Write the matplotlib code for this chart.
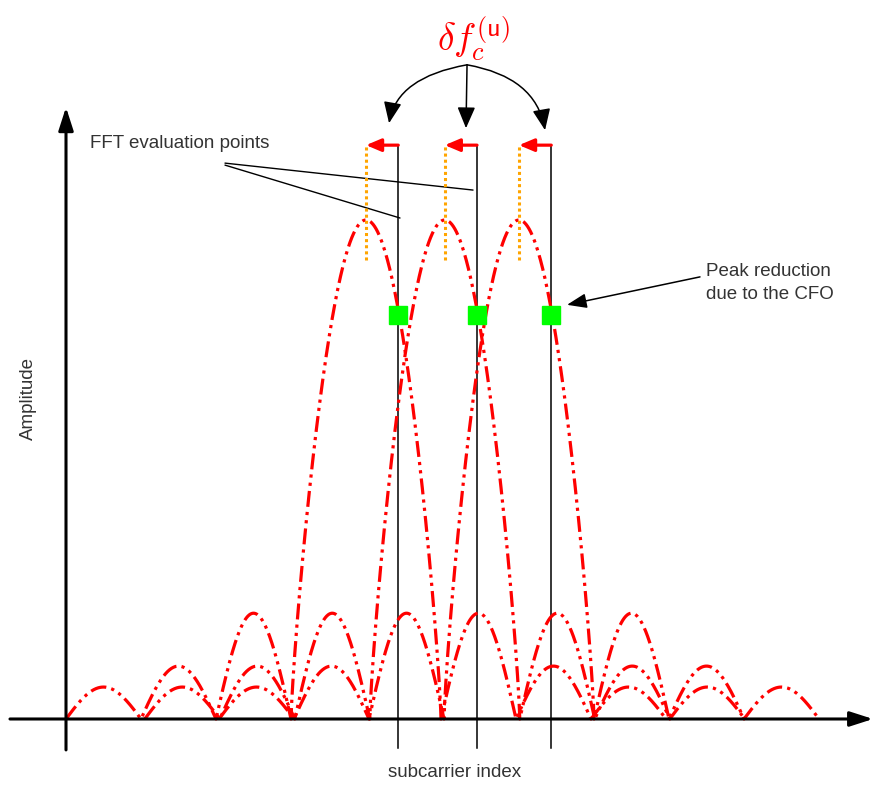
import numpy as np
import matplotlib
matplotlib.use("Agg")
from matplotlib import pyplot as plt

plt.rcParams["font.family"] = ["Liberation Sans", "DejaVu Sans"]
plt.rcParams["mathtext.fontset"] = "cm"

# subcarrier centres (peaks) and the FFT evaluation points (shifted by the CFO)
centers = [4.0, 5.05, 6.04]
fft_points = [4.43, 5.48, 6.47]
# peak amplitude of the main lobe, then side lobes 1..3
lobe_heights = [1.0, 0.212, 0.106, 0.064]
# amplitude seen at the FFT points
reduced_peak = [0.81, 0.81, 0.81]

fig = plt.figure(figsize=(8.74, 7.88), dpi=100)
ax = fig.add_axes([0, 0, 1, 1])
ax.set_xlim(-0.88, 10.773)
ax.set_ylim(-0.1383, 1.4409)
ax.axis("off")

red = "#ff0000"
dashdotdot = (0, (5, 1.6, 1, 1.6, 1, 1.6))


def lobe_curve(c):
    n_lobes = len(lobe_heights)
    u = np.linspace(-n_lobes, n_lobes, 1601)
    au = np.abs(u)
    k = np.minimum(np.floor(au).astype(int), n_lobes - 1)
    h = np.array(lobe_heights)[k]
    y = np.where(k == 0,
                 h * np.clip(np.cos(np.pi * au / 2), 0, None) ** 0.8,
                 h * np.abs(np.sin(np.pi * (au - k))))
    return c + u, y


for c in centers:
    x, y = lobe_curve(c)
    ax.plot(x, y, color=red, lw=2.3, linestyle=dashdotdot, zorder=3)

# axes with arrows
ax.annotate("", xy=(0, 1.226), xytext=(0, -0.062),
            arrowprops=dict(arrowstyle="-|>,head_length=1.4,head_width=0.45",
                            color="black", lw=2.2, shrinkA=0, shrinkB=0))
ax.annotate("", xy=(10.76, 0), xytext=(-0.747, 0),
            arrowprops=dict(arrowstyle="-|>,head_length=1.4,head_width=0.45",
                            color="black", lw=2.2, shrinkA=0, shrinkB=0))

# FFT evaluation lines, CFO arrows and peak markers
for c, f, r in zip(centers, fft_points, reduced_peak):
    ax.plot([f, f], [-0.058, 1.15], color="black", lw=1.1, zorder=2)
    ax.plot([c, c], [0.92, 1.15], color="#ffa500", lw=2.2, linestyle=(0, (1, 1)), zorder=4)
    ax.annotate("", xy=(c, 1.15), xytext=(f, 1.15),
                arrowprops=dict(arrowstyle="-|>,head_length=0.9,head_width=0.38",
                                color=red, lw=2.3, shrinkA=0, shrinkB=0), zorder=5)
    ax.plot(f, r, marker="s", markersize=13, color="#00ff00", mec="#00ff00", zorder=6)

# delta f label with curved arrows
ax.text(5.43, 1.362, r"$\delta f_c^{\mathsf{(u)}}$", color=red, fontsize=27,
        ha="center", va="center")
apex = (5.347, 1.311)
for tip, conn in [((4.307, 1.194), "angle3,angleA=10,angleB=80"),
                  ((5.333, 1.184), "arc3,rad=0"),
                  ((6.387, 1.180), "angle3,angleA=-10,angleB=100")]:
    ax.annotate("", xy=tip, xytext=apex,
                arrowprops=dict(arrowstyle="-|>,head_length=1.3,head_width=0.55",
                                color="black", lw=1.1, shrinkA=0, shrinkB=0,
                                connectionstyle=conn))

# FFT evaluation points label
ax.text(0.32, 1.154, "FFT evaluation points", fontsize=13.5, color="#333333",
        ha="left", va="center")
ax.annotate("", xy=(4.453, 1.004), xytext=(2.12, 1.110),
            arrowprops=dict(arrowstyle="-", color="black", lw=1.0, shrinkA=0, shrinkB=0))
ax.annotate("", xy=(5.427, 1.060), xytext=(2.12, 1.114),
            arrowprops=dict(arrowstyle="-", color="black", lw=1.0, shrinkA=0, shrinkB=0))

# peak reduction label
ax.text(8.53, 0.874, "Peak reduction\ndue to the CFO", fontsize=13.5, color="#333333",
        ha="left", va="center", linespacing=1.45)
ax.annotate("", xy=(6.68, 0.830), xytext=(8.453, 0.886),
            arrowprops=dict(arrowstyle="-|>,head_length=1.2,head_width=0.45",
                            color="black", lw=1.1, shrinkA=0, shrinkB=0))

ax.text(-0.507, 0.643, "Amplitude", fontsize=13.5, color="#333333", rotation=90,
        ha="center", va="center")
ax.text(5.187, -0.108, "subcarrier index", fontsize=13.5, color="#333333",
        ha="center", va="center")

fig.savefig("out.png", dpi=100)
